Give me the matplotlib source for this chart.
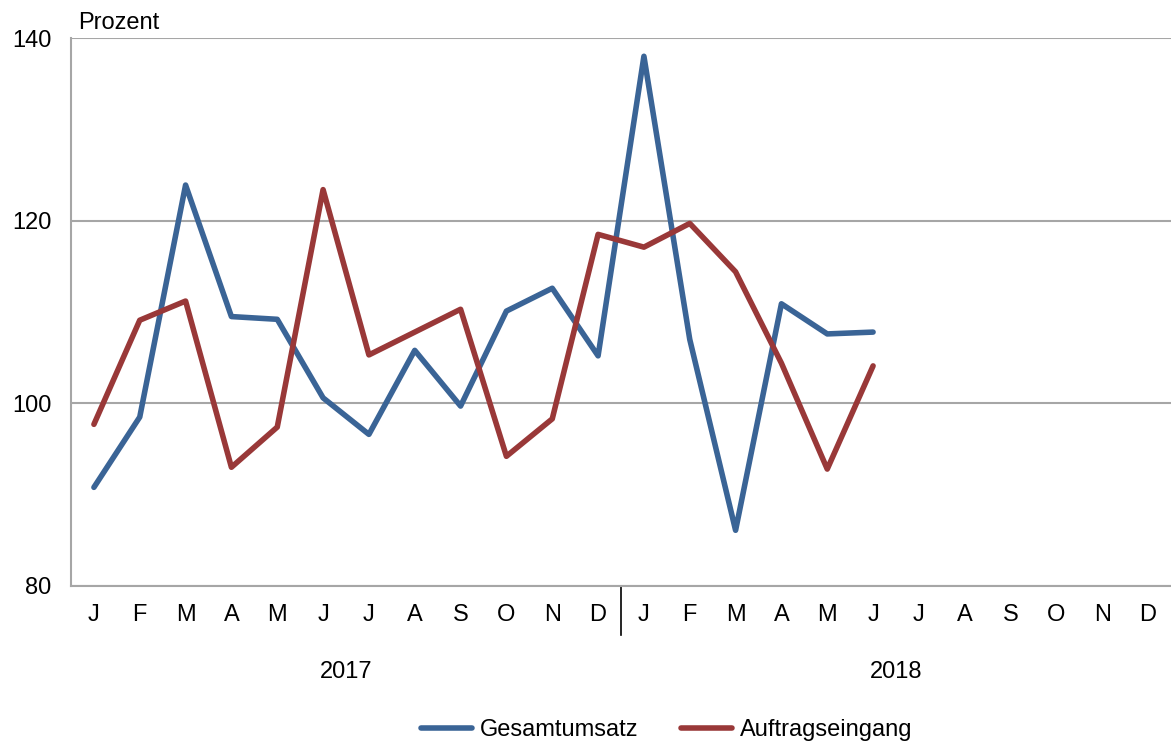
import matplotlib.pyplot as plt

# Monatswerte
months = ["J", "F", "M", "A", "M", "J", "J", "A", "S", "O", "N", "D"] * 2
years = ["2017", "2018"]
gesamtumsatz = [90.8, 98.5, 123.9, 109.5, 109.2, 100.6, 96.6, 105.8, 99.7, 110.1, 112.6, 105.2,
                138.0, 107.0, 86.1, 110.9, 107.6, 107.8]
auftragseingang = [97.7, 109.1, 111.2, 93.0, 97.4, 123.4, 105.3, 107.8, 110.3, 94.2, 98.3, 118.5,
                   117.1, 119.7, 114.4, 104.4, 92.8, 104.1]

plt.rcParams['font.family'] = ['Liberation Sans', 'DejaVu Sans']
fs = 17

fig = plt.figure(figsize=(11.71, 7.45), dpi=100)
ax = fig.add_axes([71 / 1171, 1 - 586 / 745, 1100 / 1171, 548 / 745])

ax.plot(range(len(gesamtumsatz)), gesamtumsatz, color="#3a6496", lw=4,
        solid_joinstyle="round", solid_capstyle="round", label="Gesamtumsatz")
ax.plot(range(len(auftragseingang)), auftragseingang, color="#993838", lw=4,
        solid_joinstyle="round", solid_capstyle="round", label="Auftragseingang")

ax.set_xlim(-0.5, 23.5)
ax.set_ylim(80, 140)
ax.set_yticks([80, 100, 120, 140])
ax.grid(axis="y", color="#a6a6a6", lw=1.5)
ax.set_axisbelow(True)

ax.set_xticks(range(24))
ax.set_xticklabels(months)
ax.tick_params(axis="x", length=0, pad=13, labelsize=fs)
ax.tick_params(axis="y", length=0, pad=14, labelsize=fs)

for s in ["top", "right"]:
    ax.spines[s].set_visible(False)
for s in ["left", "bottom"]:
    ax.spines[s].set_color("#a6a6a6")
    ax.spines[s].set_linewidth(1.5)

# Jahres-Trenner und Jahreszahlen
ax.plot([11.5, 11.5], [0, -0.09], transform=ax.get_xaxis_transform(),
        color="black", lw=1.2, clip_on=False)
for i, y in enumerate(years):
    ax.text(5.5 + 12 * i, -0.157, y, transform=ax.get_xaxis_transform(),
            ha="center", va="center", fontsize=fs)

ax.text(-0.35, 1.027, "Prozent", transform=ax.get_xaxis_transform(),
        ha="left", va="center", fontsize=fs)

fig.legend(loc="center", bbox_to_anchor=(0.569, 1 - 730 / 745), ncol=2, frameon=False,
           fontsize=fs, handlelength=2.2, columnspacing=1.8, handletextpad=0.3)

fig.savefig("out.png", dpi=100)
